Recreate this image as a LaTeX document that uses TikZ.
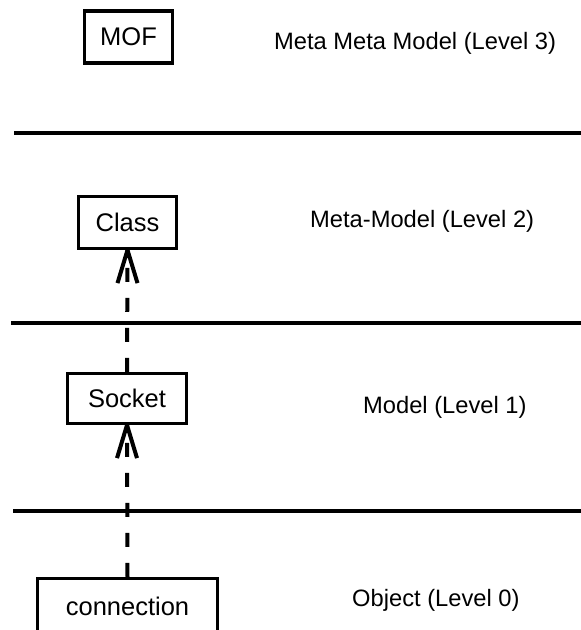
\documentclass[tikz,border=0pt]{standalone}
\usepackage{fontspec}
\setmainfont{Liberation Sans}
\begin{document}
\begin{tikzpicture}[x=1pt,y=-1pt,
  box/.style={draw,line width=3.2pt,inner sep=0pt,font=\fontsize{25.5}{30}\selectfont},
  lvl/.style={anchor=west,inner sep=0pt,font=\fontsize{23.7}{28}\selectfont},
  sep/.style={line width=3.6pt},
  dep/.style={line width=4pt,dash pattern=on 14pt off 16pt},
  head/.style={line width=4pt,line join=round,line cap=butt}]
\useasboundingbox (0,0) rectangle (581,630);
% separators
\draw[sep] (14,133) -- (581,133);
\draw[sep] (11,323) -- (581,323);
\draw[sep] (13,511) -- (581,511);
% boxes
\node[box,minimum width=88pt,minimum height=52pt] (mof) at (128.5,37) {MOF};
\node[box,minimum width=98pt,minimum height=52pt] (class) at (127.5,222.5) {Class};
\node[box,minimum width=119pt,minimum height=50pt] (socket) at (127,398.5) {Socket};
\node[box,minimum width=180pt,minimum height=56pt] (conn) at (127.5,606.5) {connection};
% labels
\node[lvl] (l3) at (274,43) {Meta Meta Model (Level 3)};
\node[lvl] (l2) at (310,221) {Meta-Model (Level 2)};
\node[lvl] (l1) at (363,407) {Model (Level 1)};
\node[lvl] (l0) at (352,600) {Object (Level 0)};
% dependencies
\draw[dep] (conn.north) -- (socket.south);
\draw[head] (socket.south) ++(-10,33) -- ++(10,-33) -- ++(10,33);
\draw[dep] (socket.north) -- (class.south);
\draw[head] (class.south) ++(-10,33) -- ++(10,-33) -- ++(10,33);
\end{tikzpicture}
\end{document}
